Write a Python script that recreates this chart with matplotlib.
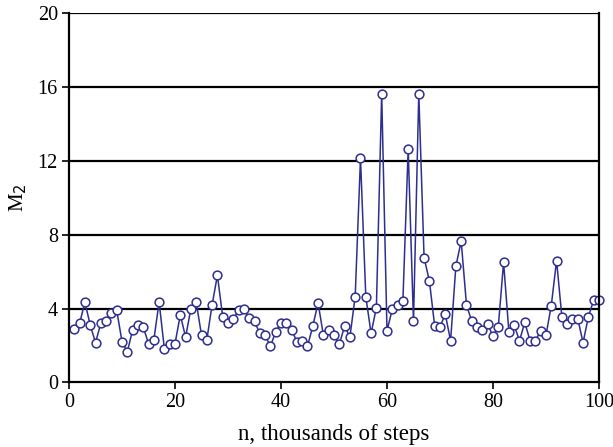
import matplotlib
matplotlib.use('Agg')
from matplotlib import pyplot as plt
import numpy as np

# steps (thousands) and M2 values
steps = np.arange(1, 101)
m2 = [2.9, 3.2, 4.35, 3.1, 2.15, 3.2, 3.3, 3.75, 3.9, 2.2,
      1.65, 2.85, 3.1, 3.0, 2.1, 2.3, 4.35, 1.8, 2.1, 2.1,
      3.65, 2.45, 4.0, 4.35, 2.55, 2.3, 4.2, 5.8, 3.55, 3.2,
      3.45, 3.9, 3.95, 3.5, 3.3, 2.65, 2.55, 1.95, 2.75, 3.2,
      3.2, 2.85, 2.2, 2.25, 1.95, 3.05, 4.3, 2.55, 2.85, 2.55,
      2.05, 3.05, 2.45, 4.65, 12.15, 4.65, 2.65, 4.05, 15.65, 2.8,
      3.95, 4.2, 4.4, 12.65, 3.3, 15.65, 6.75, 5.5, 3.05, 3.0,
      3.7, 2.25, 6.3, 7.65, 4.2, 3.3, 3.0, 2.85, 3.15, 2.5,
      3.0, 6.5, 2.75, 3.1, 2.25, 3.25, 2.25, 2.25, 2.8, 2.55,
      4.15, 6.6, 3.55, 3.15, 3.45, 3.45, 2.15, 3.55, 4.45, 4.45]

x_ticks = [0, 20, 40, 60, 80, 100]
y_ticks = [0, 4, 8, 12, 16, 20]

plt.rcParams['font.family'] = ['Liberation Serif', 'DejaVu Serif']

fig = plt.figure(figsize=(6.13, 4.47), dpi=100)
ax = fig.add_axes([0.1126, 0.1447, 0.8645, 0.8255])

# horizontal grid lines
for yv in y_ticks[1:]:
    ax.axhline(yv, color='black', lw=1.6, zorder=1)

ax.plot(steps, m2, '-', color='#2e2e8f', lw=1.1, zorder=2,
        marker='o', markersize=6.3, markerfacecolor='white',
        markeredgecolor='#2e2e8f', markeredgewidth=1.1, clip_on=False)

ax.set_xlim(0, 100)
ax.set_ylim(0, 20)
ax.set_xticks(x_ticks)
ax.set_yticks(y_ticks)
ax.tick_params(direction='out', length=5, width=1.2, labelsize=14.5, pad=3)

for side in ['left', 'bottom', 'right']:
    ax.spines[side].set_linewidth(1.6)
ax.spines['top'].set_visible(False)

ax.set_xlabel('n, thousands of steps', fontsize=16.5, labelpad=8)
ax.set_ylabel('M$_2$', fontsize=15, labelpad=6)

plt.savefig('out.png', dpi=100)
